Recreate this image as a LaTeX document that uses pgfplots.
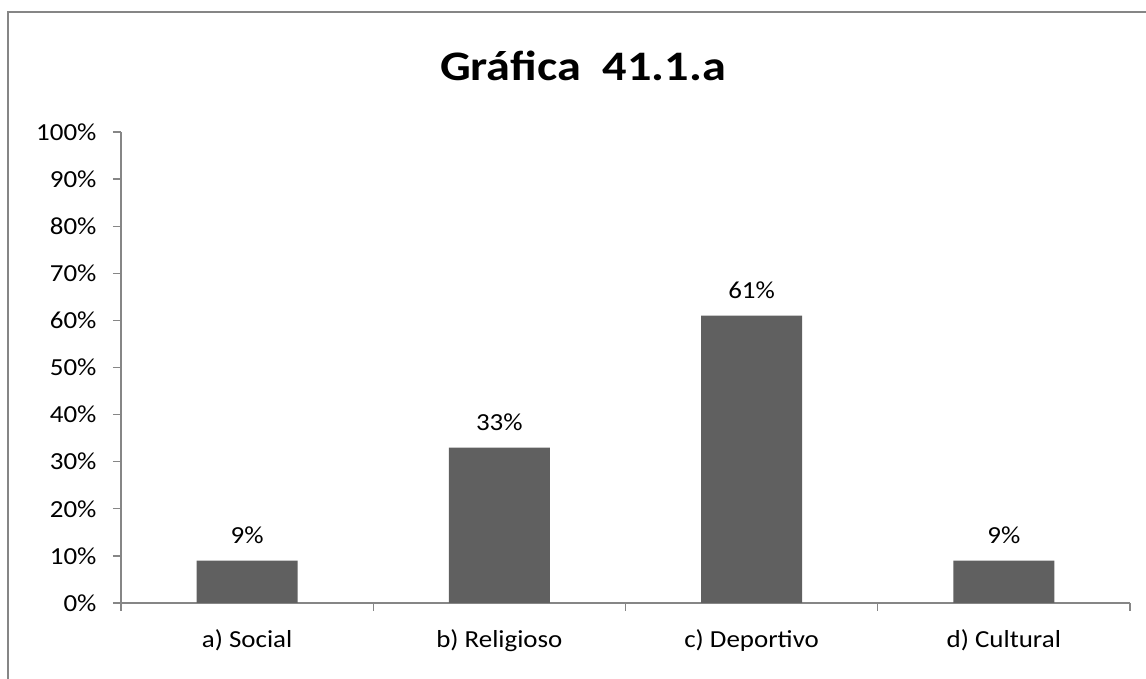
\documentclass[border=0pt]{standalone}
\usepackage{pgfplots}
\pgfplotsset{compat=1.18}
\usepackage{fontspec}
\setmainfont{Carlito}[FakeStretch=1.1]
\newfontfamily\titlefont{Carlito}[FakeStretch=1.15]
\definecolor{barc}{HTML}{606060}
\definecolor{axc}{HTML}{868686}
\begin{document}
\begin{tikzpicture}[x=1pt,y=1pt]
\useasboundingbox (0,0) rectangle (1146,679);
\begin{scope}
\clip (0,0) rectangle (1146,679);
\draw[axc, line width=2pt] (7.5,-20) -- (7.5,666.5) -- (1170,666.5);
\end{scope}
\node[font=\titlefont\fontsize{42}{50}\selectfont\bfseries] at (583,613) {Gráfica\ \ 41.1.a};
\begin{axis}[
  at={(121pt,76pt)}, anchor=south west,
  scale only axis, width=1009pt, height=471pt,
  xmin=-0.5, xmax=3.5, ymin=0, ymax=100,
  axis lines=left, axis line style={axc, line width=1.3pt, -},
  xtick={0,1,2,3},
  xticklabels={a) Social, b) Religioso, c) Deportivo, d) Cultural},
  minor xtick={-0.5,0.5,1.5,2.5,3.5},
  major x tick style={draw=none},
  minor tick length=8pt, major tick length=8pt,
  tick align=outside,
  tick style={axc, line width=1.3pt},
  ytick={0,10,...,100},
  yticklabel={\pgfmathprintnumber{\tick}\%},
  /pgf/number format/assume math mode=true,
  ticklabel style={font=\fontsize{24.5}{28}\selectfont, text=black},
  xticklabel style={yshift=-15pt},
  yticklabel style={xshift=-13pt},
  ybar, bar width=101pt,
  nodes near coords={\pgfmathprintnumber{\pgfplotspointmeta}\%},
  nodes near coords style={font=\fontsize{24.5}{28}\selectfont, text=black, yshift=13pt},
  clip=false,
]
\addplot[fill=barc, draw=none] coordinates {(0,9) (1,33) (2,61) (3,9)};
\end{axis}
\end{tikzpicture}
\end{document}
